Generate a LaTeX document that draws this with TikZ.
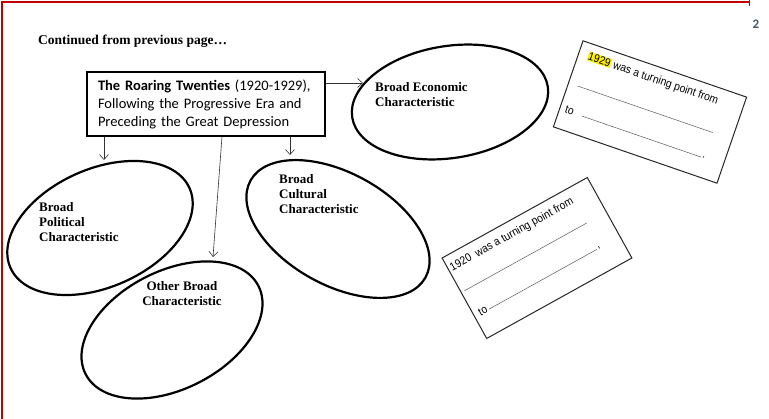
\documentclass[tikz,border=0pt]{standalone}
\usepackage{fontspec}
\setmainfont{Liberation Serif}
\newfontfamily\calibri{Carlito}
\newfontfamily\arial[FakeStretch=0.9]{Liberation Sans}
\usepackage{xcolor}
\usetikzlibrary{calc, positioning}
\usetikzlibrary{arrows.meta}
\usetikzlibrary{shapes.geometric}

\definecolor{framered}{HTML}{C00000}
\definecolor{pagenum}{HTML}{44546A}
\setlength{\fboxsep}{0.6pt}

\begin{document}
\begin{tikzpicture}[x=1pt,y=-1pt,
    oval/.style={draw, ellipse, line width=2.2pt, inner sep=0pt},
    ovaltext/.style={font=\bfseries\fontsize{13}{15}\selectfont, align=left,
        inner sep=0pt, anchor=north west},
    arr/.style={-{Straight Barb[length=5pt,width=9pt]}, line width=0.6pt, black!80},
    card/.style={draw, line width=1pt, black!85, inner sep=0pt},
    cardtext/.style={font=\arial\fontsize{11.5}{13}\selectfont, inner sep=0pt,
        anchor=base west, transform shape, black},
    blank/.style={line width=0.5pt, black!65}]
\useasboundingbox (0,0) rectangle (769,419);

% page frame
\draw[framered, line width=1.5pt] (2,419) -- (2,2) -- (749,2);
\draw[framered, line width=1pt] (749,0) -- (749,6);
\node[font=\calibri\bfseries\fontsize{13}{15}\selectfont, text=pagenum] (pg) at (756,24) {2};

\node[font=\bfseries\fontsize{13.5}{16}\selectfont, anchor=base west, inner sep=0pt]
    (cont) at (38,45) {Continued from previous page\ldots};

% main box
\node[draw, line width=1.4pt, minimum width=238pt, minimum height=64pt,
    text width=216pt, inner xsep=11pt, align=left,
    font=\calibri\fontsize{14.5}{18}\selectfont] (box) at (206,104)
    {\textbf{The Roaring Twenties} (1920-1929),\\
     Following the Progressive Era and\\
     Preceding the Great Depression};

% ovals
\node[oval, minimum width=198pt, minimum height=112pt, rotate=9] (econ) at (450,102) {};
\node[oval, minimum width=200pt, minimum height=112pt, rotate=-29] (cult) at (338,229) {};
\node[oval, minimum width=196pt, minimum height=118pt, rotate=24] (pol) at (100,228) {};
\node[oval, minimum width=194pt, minimum height=118pt, rotate=27] (oth) at (172,330) {};

\node[ovaltext] (econtxt) at (375,82) {Broad Economic\\Characteristic};
\node[ovaltext] (culttxt) at (279,174) {Broad\\Cultural\\Characteristic};
\node[ovaltext] (poltxt) at (39,202.5) {Broad\\Political\\Characteristic};
\node[ovaltext, anchor=north, align=center] (othtxt) at (182,281)
    {Other Broad\\Characteristic};

% arrows from the box
\coordinate (econin) at (363,83);
\coordinate (polin) at (104,160);
\coordinate (cultin) at (290,155);
\coordinate (othin) at (213,257);
\draw[arr] (box.east |- econin) -- (econin);
\draw[arr] (box.south -| polin) -- (polin);
\draw[arr] (box.south -| cultin) -- (cultin);
\draw[arr] ([xshift=16pt]box.south) -- (othin);

% turning point cards
\node[card, minimum width=173pt, minimum height=91pt, rotate=-19] (card1) at (650,112) {};
\begin{scope}[shift={(card1.north west)}, rotate=-19]
  \node[cardtext] (yr1) at (10,17) {\colorbox{yellow}{1929}\ was a turning point from};
  \draw[blank] (10,45) -- (153,45);
  \node[cardtext] (to1) at (6,74) {to};
  \draw[blank] (24,72) -- (150,72);
  \node[cardtext] (dot1) at (151,72) {.};
\end{scope}

\node[card, minimum width=166pt, minimum height=92pt, rotate=29] (card2) at (537,258) {};
\begin{scope}[shift={(card2.north west)}, rotate=29]
  \node[cardtext] (yr2) at (3,17) {1920\ \ was a turning point from};
  \draw[blank] (4,40) -- (144,40);
  \node[cardtext] (to2) at (6,70) {to};
  \draw[blank] (17,68) -- (140,68);
  \node[cardtext] (com2) at (141,68) {,};
\end{scope}
\end{tikzpicture}
\end{document}
